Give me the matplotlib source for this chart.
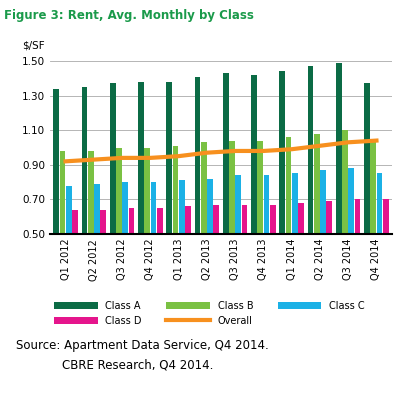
import numpy as np
import matplotlib.pyplot as plt

quarters = ["Q1 2012", "Q2 2012", "Q3 2012", "Q4 2012", "Q1 2013", "Q2 2013",
            "Q3 2013", "Q4 2013", "Q1 2014", "Q2 2014", "Q3 2014", "Q4 2014"]
class_a = [1.34, 1.35, 1.37, 1.38, 1.38, 1.41, 1.43, 1.42, 1.44, 1.47, 1.49, 1.37]
class_b = [0.98, 0.98, 1.00, 1.00, 1.01, 1.03, 1.04, 1.04, 1.06, 1.08, 1.10, 1.05]
class_c = [0.78, 0.79, 0.80, 0.80, 0.81, 0.82, 0.84, 0.84, 0.85, 0.87, 0.88, 0.85]
class_d = [0.64, 0.64, 0.65, 0.65, 0.66, 0.67, 0.67, 0.67, 0.68, 0.69, 0.70, 0.70]
overall = [0.92, 0.93, 0.94, 0.94, 0.95, 0.97, 0.98, 0.98, 0.99, 1.01, 1.03, 1.04]

W, H = 409, 417
fig = plt.figure(figsize=(W / 100, H / 100), dpi=100)
ax = fig.add_axes([50 / W, 1 - 234 / H, 342 / W, 173 / H])

x = np.arange(len(quarters))
bw = 0.22
series = [(class_a, "#0b6b45", "Class A"), (class_b, "#7ac143", "Class B"),
          (class_c, "#1bb1e6", "Class C"), (class_d, "#e5158c", "Class D")]
for i, (vals, col, lab) in enumerate(series):
    ax.bar(x + (i - 1.5) * bw, np.array(vals) - 0.5, bw * 0.92, bottom=0.5,
           color=col, label=lab, zorder=2)
ax.plot(x, overall, color="#f7901e", lw=3, label="Overall", zorder=3)

ax.set_ylim(0.5, 1.5)
ax.set_xlim(-0.55, 11.55)
ax.set_yticks([0.5, 0.7, 0.9, 1.1, 1.3, 1.5])
ax.set_yticklabels(["0.50", "0.70", "0.90", "1.10", "1.30", "1.50"], fontsize=7.5)
ax.set_xticks(x)
ax.set_xticklabels(quarters, rotation=90, fontsize=7)
ax.tick_params(length=0)
ax.grid(axis="y", color="#aaaaaa", lw=0.6, zorder=0)
for s in ["top", "right", "left"]:
    ax.spines[s].set_visible(False)
ax.spines["bottom"].set_linewidth(1.5)

fig.text(4 / W, 1 - 16 / H, "Figure 3: Rent, Avg. Monthly by Class", color="#1a9a4a",
         fontsize=8.5, fontweight="bold", va="center", family="Liberation Sans Narrow")
fig.text(22 / W, 1 - 45 / H, "$/SF", fontsize=7.5, va="center")

h, l = ax.get_legend_handles_labels()
# column-major fill: A, D | B, Overall | C
order = [1, 4, 2, 0, 3]
fig.legend([h[i] for i in order], [l[i] for i in order], ncol=3, frameon=False,
           fontsize=7, loc="upper left", bbox_to_anchor=(45 / W, 1 - 292 / H),
           handlelength=4.5, handleheight=0.8, columnspacing=2.5)

fig.text(16 / W, 1 - 345 / H, "Source: Apartment Data Service, Q4 2014.", fontsize=8.5,
         va="center", family="Liberation Sans Narrow")
fig.text(62 / W, 1 - 365 / H, "CBRE Research, Q4 2014.", fontsize=8.5,
         va="center", family="Liberation Sans Narrow")

fig.savefig("out.png", dpi=100)
